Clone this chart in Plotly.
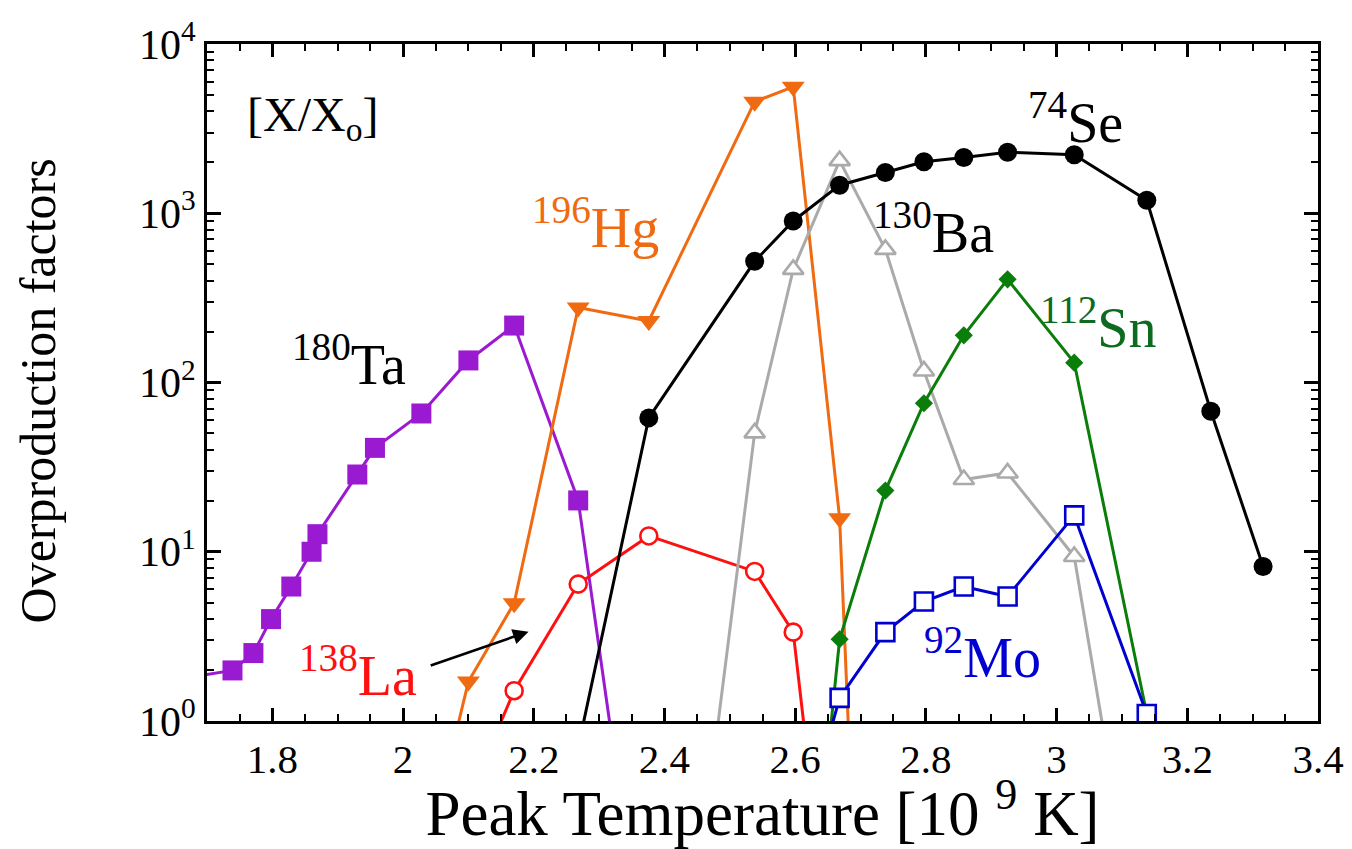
import plotly.graph_objects as go

# Peak temperatures [10^9 K] and overproduction factors per isotope
ta_T = [1.65, 1.739, 1.771, 1.798, 1.829, 1.860, 1.869, 1.930, 1.957, 2.028, 2.100, 2.170, 2.268, 2.376]
ta_F = [1.75, 1.99, 2.52, 4.0, 6.23, 10.0, 12.7, 28.6, 41.1, 65.6, 135, 217, 20.1, 0.023]

hg_T = [2.028, 2.100, 2.170, 2.268, 2.376, 2.538, 2.597, 2.668, 2.738]
hg_F = [0.12, 1.71, 4.97, 277, 231, 4560, 5590, 15.8, 5.6e-6]

se_T = [2.268, 2.376, 2.538, 2.597, 2.668, 2.738, 2.797, 2.858, 2.925, 3.027, 3.138, 3.236, 3.316]
se_F = [0.70, 61.8, 520, 900, 1465, 1741, 2013, 2136, 2296, 2219, 1194, 67.6, 8.19]

ba_T = [2.376, 2.538, 2.597, 2.668, 2.738, 2.797, 2.858, 2.925, 3.027, 3.138]
ba_F = [5.5e-4, 50.4, 466, 2046, 612, 117, 26.7, 29.2, 9.38, 0.026]

sn_T = [2.597, 2.668, 2.738, 2.797, 2.858, 2.925, 3.027, 3.138]
sn_F = [0.006, 3.04, 23.0, 75.4, 190, 407, 131, 1.1]

mo_T = [2.597, 2.668, 2.738, 2.797, 2.858, 2.925, 3.027, 3.138]
mo_F = [0.14, 1.37, 3.35, 5.08, 6.23, 5.44, 16.4, 1.10]

la_T = [2.100, 2.170, 2.268, 2.376, 2.538, 2.597, 2.668]
la_F = [0.35, 1.51, 6.44, 12.4, 7.65, 3.35, 0.014]

y_tickvals = [1, 10, 100, 1000, 10000]
y_ticktext = ["10<sup>0</sup>", "10<sup>1</sup>", "10<sup>2</sup>", "10<sup>3</sup>", "10<sup>4</sup>"]
y_minor = [m * 10 ** e for e in range(4) for m in range(2, 10)]

FONT = "Liberation Serif"

PURPLE = "#9a1ad2"
ORANGE = "#f06a12"
GRAY = "#aaaaaa"
GREEN = "#0a7d0a"
BLUE = "#0000d0"
RED = "#ff1010"

fig = go.Figure()

def add_series(T, F, color, symbol, size, filled=True, lw=3):
    marker = dict(symbol=symbol, size=size, color=color if filled else "white",
                  line=dict(color=color, width=0 if filled else 2.6))
    fig.add_trace(go.Scatter(x=T, y=F, mode="lines+markers",
                             line=dict(color=color, width=lw),
                             marker=marker, showlegend=False))

add_series(ta_T, ta_F, PURPLE, "square", 20)
add_series(hg_T, hg_F, ORANGE, "triangle-down", 20)
add_series(la_T, la_F, RED, "circle", 17, filled=False)
add_series(ba_T, ba_F, GRAY, "triangle-up", 18, filled=False)
add_series(se_T, se_F, "black", "circle", 19)
add_series(sn_T, sn_F, GREEN, "diamond", 14)
add_series(mo_T, mo_F, BLUE, "square", 18, filled=False)

def label(x, logy, html, color, size=56):
    fig.add_annotation(x=x, y=logy, xref="x", yref="y", text=html, showarrow=False,
                       font=dict(family=FONT, size=size, color=color),
                       xanchor="center", yanchor="middle")

label(3.029, 3.56, "<sup>74</sup>Se", "black")
label(2.812, 2.91, "<sup>130</sup>Ba", "black")
label(3.063, 2.35, "<sup>112</sup>Sn", "#0d6b1f")
label(2.295, 2.94, "<sup>196</sup>Hg", ORANGE)
label(1.918, 2.13, "<sup>180</sup>Ta", "black")
label(1.931, 0.29, "<sup>138</sup>La", RED)
label(2.887, 0.40, "<sup>92</sup>Mo", BLUE)

fig.add_annotation(x=1.862, y=3.56, xref="x", yref="y",
                   text="[X/X<sub>o</sub>]", showarrow=False,
                   font=dict(family=FONT, size=48, color="black"),
                   xanchor="center", yanchor="middle")

# pointer from the La label towards its curve
fig.add_annotation(x=2.192, y=0.528, ax=2.040, ay=0.325, xref="x", yref="y",
                   axref="x", ayref="y", text="", showarrow=True,
                   arrowhead=2, arrowsize=1.2, arrowwidth=2.6, arrowcolor="black")

# y-axis title placed as a rotated annotation
fig.add_annotation(x=-0.152, y=0.487, xref="paper", yref="paper",
                   text="Overproduction factors", textangle=-90, showarrow=False,
                   font=dict(family=FONT, size=50, color="black"),
                   xanchor="center", yanchor="middle")

fig.update_xaxes(range=[1.7, 3.4], dtick=0.2, tick0=0,
                 ticks="inside", ticklen=13, tickwidth=2.5, tickcolor="black",
                 minor=dict(dtick=0.05, ticks="inside", ticklen=7, tickwidth=2, tickcolor="black"),
                 showline=True, linewidth=3, linecolor="black", mirror="allticks",
                 showgrid=False, zeroline=False,
                 tickfont=dict(family=FONT, size=41, color="black"),
                 title=dict(text="Peak Temperature [10 <sup>9</sup> K]",
                            font=dict(family=FONT, size=63, color="black"), standoff=12))

fig.update_yaxes(type="log", range=[0, 4], tickvals=y_tickvals, ticktext=y_ticktext,
                 ticks="inside", ticklen=14, tickwidth=2.5, tickcolor="black",
                 minor=dict(tickvals=y_minor, ticks="inside", ticklen=7, tickwidth=2, tickcolor="black"),
                 showline=True, linewidth=3, linecolor="black", mirror="allticks",
                 showgrid=False, zeroline=False,
                 tickfont=dict(family=FONT, size=42, color="black"))

fig.update_layout(width=1352, height=849,
                  margin=dict(l=207, r=34, t=44, b=128, autoexpand=False),
                  plot_bgcolor="white", paper_bgcolor="white",
                  font=dict(family=FONT))

fig.write_html("out.html")
